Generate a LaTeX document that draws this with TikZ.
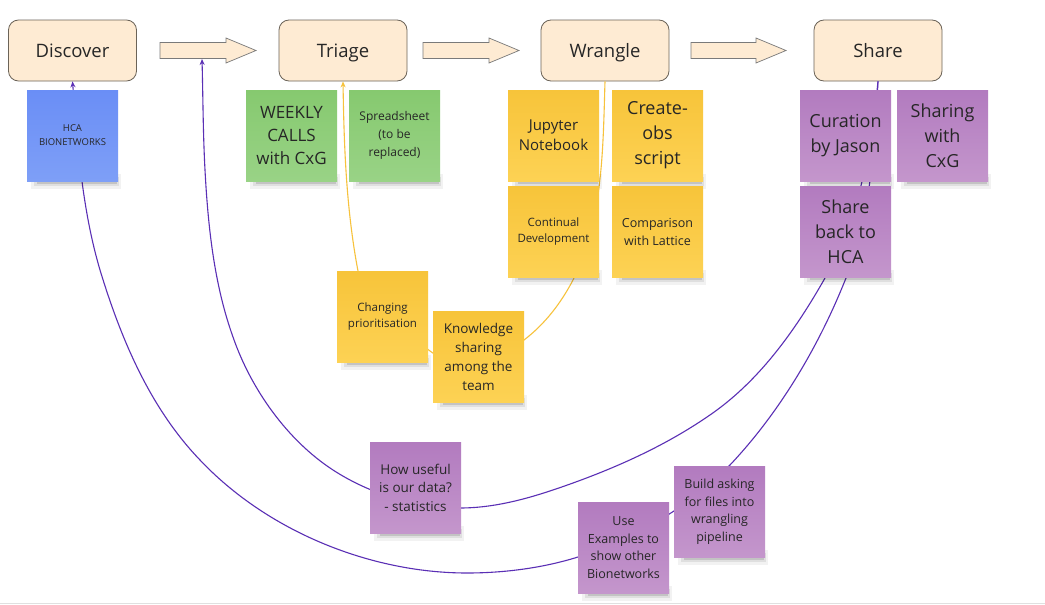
\documentclass[tikz,border=0pt]{standalone}
\usepackage{fontspec}
\setmainfont{Open Sans}
\usetikzlibrary{arrows.meta}
\definecolor{boxfill}{HTML}{FEEBD3}
\definecolor{boxline}{HTML}{6B6358}
\definecolor{arrline}{HTML}{7A7A7A}
\definecolor{blueT}{HTML}{6A8EF6}
\definecolor{blueB}{HTML}{7E9FF7}
\definecolor{greenT}{HTML}{86C96F}
\definecolor{greenB}{HTML}{99D386}
\definecolor{yelT}{HTML}{F7C43A}
\definecolor{yelB}{HTML}{FDD254}
\definecolor{purT}{HTML}{B27BBF}
\definecolor{purB}{HTML}{C496CC}
\definecolor{purline}{HTML}{5A2FB5}
\definecolor{yelline}{HTML}{F7C23C}
\definecolor{txt}{HTML}{262626}
\newcommand{\fsz}[2]{\fontsize{#1}{#2}\selectfont}
\newcommand{\mknote}[5]{%
  \begin{scope}[shift={(#2,#3)}]
    \fill[black,opacity=0.05] (4,84) rectangle (94,99);
    \fill[black,opacity=0.08] (7,87) rectangle (92,96);
    \fill[black,opacity=0.12] (10,89) rectangle (90,93.5);
    \node[notebox,#4] (#1) at (45.5,45.5) {#5};
  \end{scope}}
\tikzset{
  stage/.style={draw=boxline, line width=0.8pt, fill=boxfill, rounded corners=10pt,
    minimum width=128pt, minimum height=61pt, inner sep=0pt, text=txt, font=\fsz{18.5}{22},
    text height=13.5pt, text depth=0.5pt},
  flowarrow/.style={draw=arrline, line width=0.7pt, fill=boxfill, line join=miter},
  notebox/.style={minimum width=91pt, minimum height=91pt, inner sep=0pt, align=center, text=txt},
  bluenote/.style={top color=blueT, bottom color=blueB},
  greennote/.style={top color=greenT, bottom color=greenB},
  yelnote/.style={top color=yelT, bottom color=yelB},
  purnote/.style={top color=purT, bottom color=purB},
  purlink/.style={draw=purline, line width=1.1pt, -{Stealth[length=6pt,width=5pt]}},
  yellink/.style={draw=yelline, line width=1.1pt, -{Stealth[length=6pt,width=5pt]}},
}
\begin{document}
\begin{tikzpicture}[x=1pt,y=-1pt]
\useasboundingbox (0,0) rectangle (1045,605);
\fill[white] (0,0) rectangle (1045,605);
\draw[black!12, line width=1.5pt] (0,603.5) -- (1045,603.5);

% stage boxes
\node[stage] (discover) at (72.5,50.5) {Discover};
\node[stage] (triage) at (343,50.5) {Triage};
\node[stage] (wrangle) at (605,50.5) {Wrangle};
\node[stage] (share) at (878,50.5) {Share};

% flow arrows
\draw[flowarrow] (160,42.5) -- (226,42.5) -- (226,38) -- (256,50.5) -- (226,63) -- (226,58.5) -- (160,58.5) -- cycle;
\draw[flowarrow] (423,42.5) -- (489,42.5) -- (489,38) -- (519,50.5) -- (489,63) -- (489,58.5) -- (423,58.5) -- cycle;
\draw[flowarrow] (691,42.5) -- (756,42.5) -- (756,38) -- (786,50.5) -- (756,63) -- (756,58.5) -- (691,58.5) -- cycle;
\coordinate (arrowonebottom) at (202,59);

% connectors
\draw[yellink] (wrangle.south)
  .. controls +(-2,67) and +(30,-60) .. (573,280)
  .. controls +(-12,23) and +(21,-16) .. (524,340)
  .. controls +(-28,21) and +(28,21) .. (430,351)
  .. controls +(-29,-22) and +(7,35) .. (358,271)
  .. controls +(-12,-63) and +(1,63) .. (triage.south);

\draw[purlink] (share.south)
  .. controls +(-3,65) and +(24,-60) .. (846,278)
  .. controls +(-27,68) and +(50,-53) .. (730,465)
  .. controls +(-41,42) and +(56,-18) .. (578,557)
  .. controls +(-35,11) and +(37,0) .. (467,573)
  .. controls +(-97,0) and +(67,71) .. (200,460)
  .. controls +(-50,-52) and +(21,69) .. (100,270)
  .. controls +(-18,-61) and +(5,63) .. (discover.south);

\draw[purlink] (share.south)
  .. controls +(-7,68) and +(34,-59) .. (825,278)
  .. controls +(-30,53) and +(51,-34) .. (707,417)
  .. controls +(-41,28) and +(47,-17) .. (573,483)
  .. controls +(-36,13) and +(39,0) .. (460,508)
  .. controls +(-44,0) and +(37,24) .. (333,470)
  .. controls +(-46,-30) and +(18,52) .. (233,337)
  .. controls +(-19,-53) and +(3,56) .. (205,170)
  .. controls +(-2,-37) and +(1,37) .. (arrowonebottom);

% sticky notes
\mknote{hca}{27}{90}{bluenote, font=\fsz{9.5}{14}}{HCA\\BIONETWORKS}
\mknote{weekly}{246}{90}{greennote, font=\fsz{17}{23}}{WEEKLY\\CALLS\\with CxG}
\mknote{spread}{349}{90}{greennote, font=\fsz{12}{18}}{Spreadsheet\\(to be\\replaced)}
\mknote{jupyter}{508}{90}{yelnote, font=\fsz{15}{20}}{Jupyter\\Notebook}
\mknote{createobs}{612}{90}{yelnote, font=\fsz{18}{25}}{Create-\\obs\\script}
\mknote{continual}{508}{186}{yelnote, font=\fsz{11.5}{16}}{Continual\\Development}
\mknote{comparison}{612}{186}{yelnote, font=\fsz{12.5}{18}}{Comparison\\with Lattice}
\mknote{curation}{800}{90}{purnote, font=\fsz{18}{25}}{Curation\\by Jason}
\mknote{sharingcxg}{897}{90}{purnote, font=\fsz{18}{25}}{Sharing\\with\\CxG}
\mknote{shareback}{800}{186}{purnote, font=\fsz{18}{25}}{Share\\back to\\HCA}
\mknote{changing}{337}{271}{yelnote, font=\fsz{11.5}{16}}{Changing\\prioritisation}
\mknote{knowledge}{433}{311}{yelnote, font=\fsz{13.5}{19}}{Knowledge\\sharing\\among the\\team}
\mknote{howuseful}{370}{442}{purnote, font=\fsz{13.5}{18.5}}{How useful\\is our data?\\- statistics}
\mknote{build}{674}{466}{purnote, font=\fsz{12.5}{17.5}}{Build asking\\for files into\\wrangling\\pipeline}
\mknote{useex}{578}{502}{purnote, font=\fsz{12.5}{17.5}}{Use\\Examples to\\show other\\Bionetworks}
\end{tikzpicture}
\end{document}
